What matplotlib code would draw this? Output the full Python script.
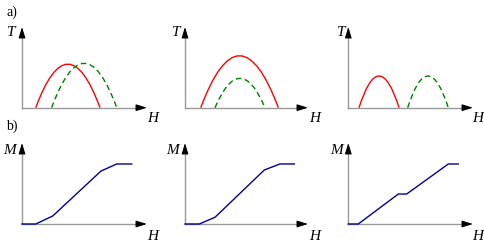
import matplotlib
matplotlib.use("Agg")
import matplotlib.pyplot as plt
from matplotlib.path import Path
from matplotlib.patches import PathPatch

W, H = 485, 247

# --- data (axis length = 1 in both directions) ---
# a) T(H) domes: start, end, peak height
a_red = [(0.110, 0.624, 0.54), (0.128, 0.759, 0.644), (0.086, 0.407, 0.393)]
a_green = [(0.237, 0.758, 0.55), (0.244, 0.650, 0.364), (0.476, 0.802, 0.393)]

# b) M(H) curves
b_H = [
    [0, 0.110, 0.246, 0.632, 0.758, 0.878],
    [0, 0.116, 0.244, 0.645, 0.772, 0.889],
    [0, 0.080, 0.401, 0.468, 0.802, 0.882],
]
b_M = [
    [0, 0, 0.099, 0.654, 0.741, 0.741],
    [0, 0, 0.083, 0.667, 0.741, 0.741],
    [0, 0, 0.370, 0.370, 0.741, 0.741],
]

# panel geometry in pixels: x of y-axis, width
panel_x = [22, 185, 348.3]
panel_w = [125, 123, 124.7]
row_y = [107.7, 224]   # y of x-axis (pixels from top)
row_h = [80.7, 81]

plt.rcParams['font.family'] = ['Liberation Serif', 'DejaVu Serif']

fig = plt.figure(figsize=(W / 100, H / 100), dpi=100)


def make_axes(x0, y0, w, h):
    ax = fig.add_axes([x0 / W, (H - y0) / H, w / W, h / H])
    ax.set_xlim(0, 1)
    ax.set_ylim(0, 1)
    ax.axis('off')
    # gray shafts, black heads
    ax.plot([0, 0.95], [0, 0], color='#999999', lw=1.0, clip_on=False, zorder=1)
    ax.plot([0, 0], [0, 0.93], color='#999999', lw=1.0, clip_on=False, zorder=1)
    style = '-|>,head_length=0.65,head_width=0.2'
    ax.annotate('', xy=(1, 0), xytext=(0.93, 0),
                arrowprops=dict(arrowstyle=style, color='black', lw=0.8,
                                shrinkA=0, shrinkB=0))
    ax.annotate('', xy=(0, 1), xytext=(0, 0.89),
                arrowprops=dict(arrowstyle=style, color='black', lw=0.8,
                                shrinkA=0, shrinkB=0))
    return ax


def dome(ax, a, b, h, **kw):
    verts = [(a, 0), ((a + b) / 2, 2 * h), (b, 0)]
    codes = [Path.MOVETO, Path.CURVE3, Path.CURVE3]
    ax.add_patch(PathPatch(Path(verts, codes), fill=False, clip_on=False, **kw))


for i in range(3):
    ax = make_axes(panel_x[i], row_y[0], panel_w[i], row_h[0])
    r = a_red[i]
    g = a_green[i]
    dome(ax, r[0], r[1], r[2], edgecolor='#ff0000', lw=1.0, zorder=3)
    dome(ax, g[0], g[1], g[2], edgecolor='#008000', lw=1.0,
         linestyle=(0, (4, 2.5)), zorder=3)

    ax = make_axes(panel_x[i], row_y[1], panel_w[i], row_h[1])
    ax.plot(b_H[i], b_M[i], color='#000099', lw=1.0, clip_on=False, zorder=3)

# labels
def label(x, y, s, **kw):
    fig.text(x / W, 1 - y / H, s, ha='center', va='center', **kw)

label(11.5, 12, 'a)', fontsize=10)
label(11.5, 126, 'b)', fontsize=10)
t_x = [11.5, 176, 341]
m_x = [10, 172.5, 337]
h_x = [153, 315, 478]
for i in range(3):
    label(t_x[i], 33, 'T', fontsize=11, style='italic')
    label(h_x[i], 118, 'H', fontsize=11, style='italic')
    label(m_x[i], 150, 'M', fontsize=11, style='italic')
    label(h_x[i], 236.5, 'H', fontsize=11, style='italic')

fig.savefig('out.png', dpi=100)
